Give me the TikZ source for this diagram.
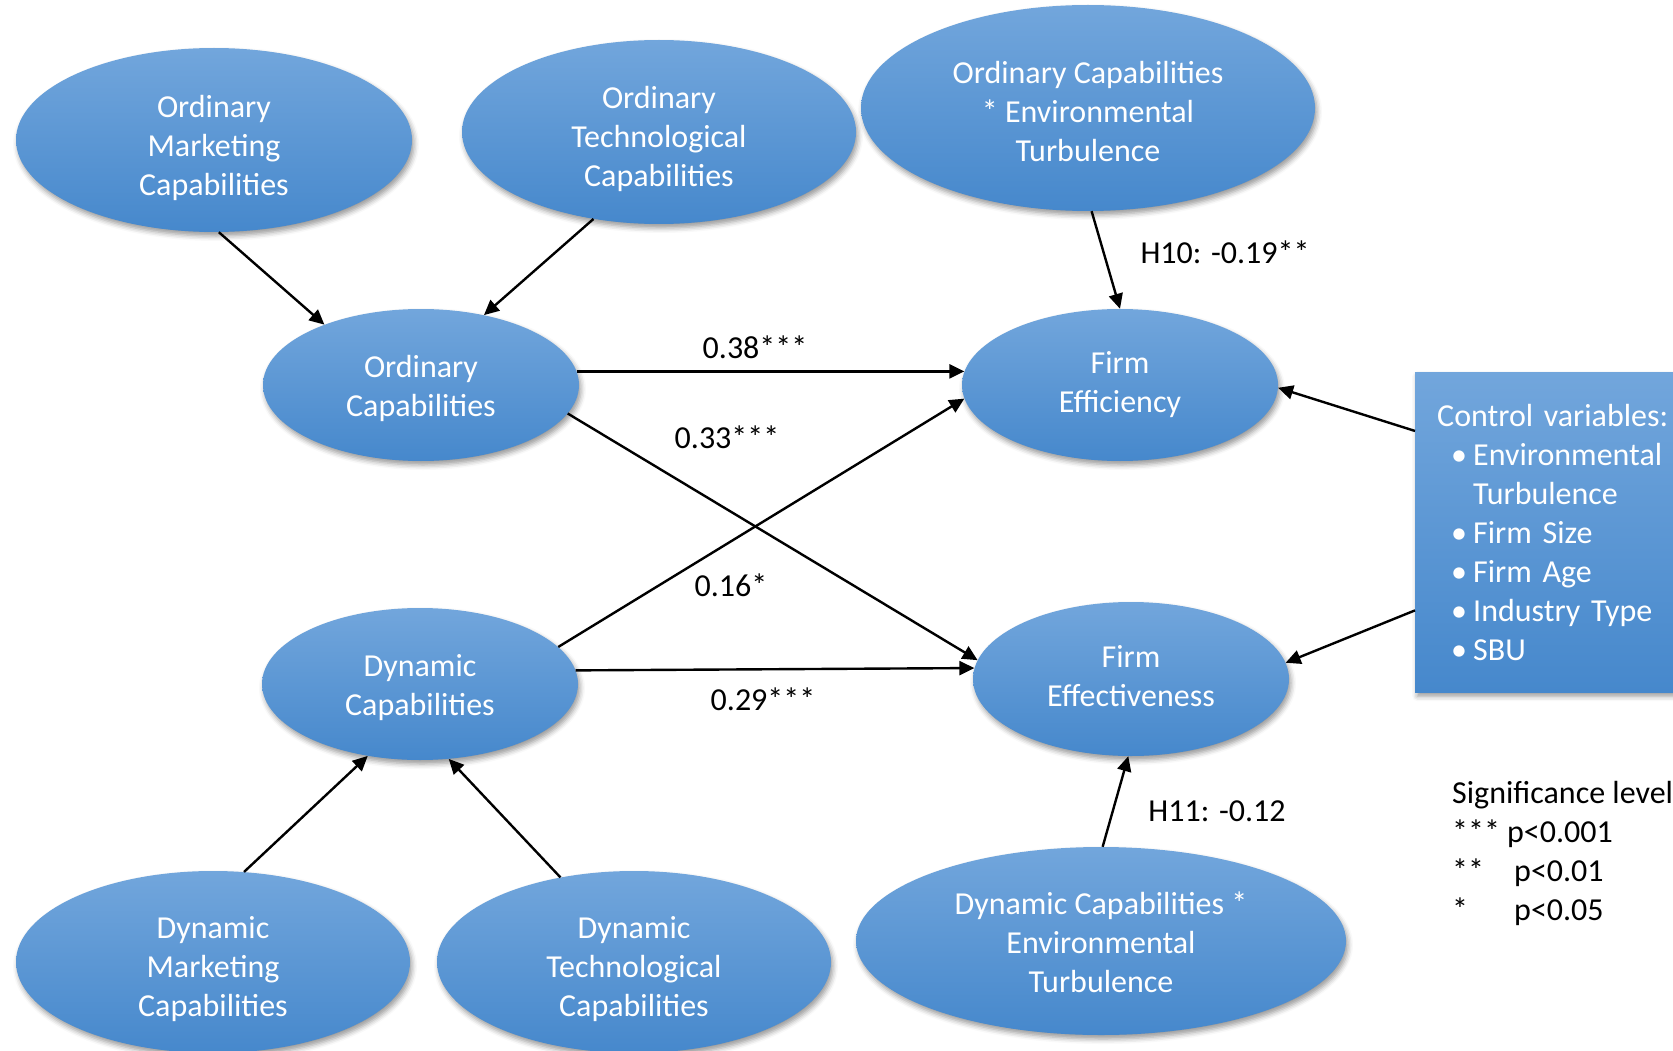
\documentclass[tikz,border=0pt]{standalone}
\usepackage{fontspec}
\setmainfont{Carlito}
\usetikzlibrary{shapes.geometric,arrows.meta,shadows.blur,calc}
\definecolor{ctop}{RGB}{114,166,220}
\definecolor{cbot}{RGB}{70,136,204}
\newcommand\lowertxt[2]{\raisebox{-#1}[\height][\depth]{\begin{tabular}{@{}c@{}}#2\end{tabular}}}
\begin{document}
\begin{tikzpicture}[x=1pt,y=-1pt,
  txt/.style={font=\fontsize{32}{39}\selectfont},
  fillgrad/.style={top color=ctop, bottom color=cbot, draw=none, text=white,
    blur shadow={shadow xshift=2pt,shadow yshift=-4pt,shadow blur radius=5pt,shadow opacity=40}},
  bubble/.style={ellipse, inner sep=0pt, fillgrad, align=center, txt},
  box/.style={rectangle, fillgrad, align=left, txt},
  link/.style={-{Triangle[length=15pt,width=14pt]}, line width=2.4pt, black},
  lbl/.style={txt, text=black, inner sep=0pt}
]
\path[use as bounding box] (0,0) rectangle (1673,1051);
\clip (0,0) rectangle (1673,1051);

% ellipses
\node[bubble, minimum width=396pt, minimum height=184pt] (omc) at (214,140) {\lowertxt{8.5pt}{Ordinary\\Marketing\\Capabilities}};
\node[bubble, minimum width=394pt, minimum height=184pt] (otc) at (659,132) {\lowertxt{8pt}{Ordinary\\Technological\\Capabilities}};
\node[bubble, minimum width=454pt, minimum height=206pt] (ocet) at (1088,108) {\lowertxt{7pt}{Ordinary Capabilities\\{}* Environmental\\Turbulence}};
\node[bubble, minimum width=316pt, minimum height=152pt] (oc) at (421,385) {\lowertxt{4.5pt}{Ordinary\\Capabilities}};
\node[bubble, minimum width=316pt, minimum height=152pt] (feff) at (1120,385) {Firm\\Efficiency};
\node[bubble, minimum width=316pt, minimum height=152pt] (dc) at (420,684) {\lowertxt{4.5pt}{Dynamic\\Capabilities}};
\node[bubble, minimum width=316pt, minimum height=154pt] (fef) at (1131,679) {\lowertxt{0.5pt}{Firm\\Effectiveness}};
\node[bubble, minimum width=394pt, minimum height=182pt] (dmc) at (213,962) {\lowertxt{7.5pt}{Dynamic\\Marketing\\Capabilities}};
\node[bubble, minimum width=394pt, minimum height=182pt] (dtc) at (634,962) {\lowertxt{7.5pt}{Dynamic\\Technological\\Capabilities}};
\node[bubble, minimum width=490pt, minimum height=188pt] (dcet) at (1101,941) {\lowertxt{5pt}{Dynamic Capabilities *\\Environmental\\Turbulence}};

% control box
\node[box, anchor=north west, minimum height=320pt, text width=300pt, inner xsep=22pt] (ctrl) at (1415,372)
 {Control variables:\\
  \hspace*{14pt}\makebox[22pt][l]{•}Environmental\\
  \hspace*{36pt}Turbulence\\
  \hspace*{14pt}\makebox[22pt][l]{•}Firm Size\\
  \hspace*{14pt}\makebox[22pt][l]{•}Firm Age\\
  \hspace*{14pt}\makebox[22pt][l]{•}Industry Type\\
  \hspace*{14pt}\makebox[22pt][l]{•}SBU};

% connectors
\draw[link] (omc.-87) -- (oc.148.5);
\draw[link] (otc.-127.5) -- (oc.48.9);
\draw[link] (ocet.-88) -- (feff.90);
\draw[link] (oc.5.5) -- (feff.175.3);
\draw[link] (oc.-11.6) -- (fef.173.1);
\draw[link] (dc.15.6) -- (feff.-175);
\draw[link] (dc.5.8) -- (fef.176);
\draw[link] (dmc.71.6) -- (dc.-126.5);
\draw[link] (dtc.131) -- (dc.-69);
\draw[link] (dcet.89) -- (fef.-92);
\draw[link] ($(ctrl.north west)!0.184!(ctrl.south west)$) -- (feff.-1);
\draw[link] ($(ctrl.north west)!0.744!(ctrl.south west)$) -- (fef.6.5);

% labels
\node[lbl] (l10) at (1225,252) {H10: -0.19**};
\node[lbl] (l38) at (755,347) {0.38***};
\node[lbl] (l33) at (727,437) {0.33***};
\node[lbl] (l16) at (731,585) {0.16*};
\node[lbl] (l29) at (763,699) {0.29***};
\node[lbl] (l11) at (1217,811) {H11: -0.12};

% significance
\node[lbl, anchor=base west] (s0) at (1452,803) {Significance level};
\node[lbl, anchor=base west] (s1) at (1452,842) {\makebox[55pt][l]{***}p<0.001};
\node[lbl, anchor=base west] (s2) at (1452,881) {\makebox[62pt][l]{**}p<0.01};
\node[lbl, anchor=base west] (s3) at (1452,920) {\makebox[62pt][l]{*}p<0.05};
\end{tikzpicture}
\end{document}
